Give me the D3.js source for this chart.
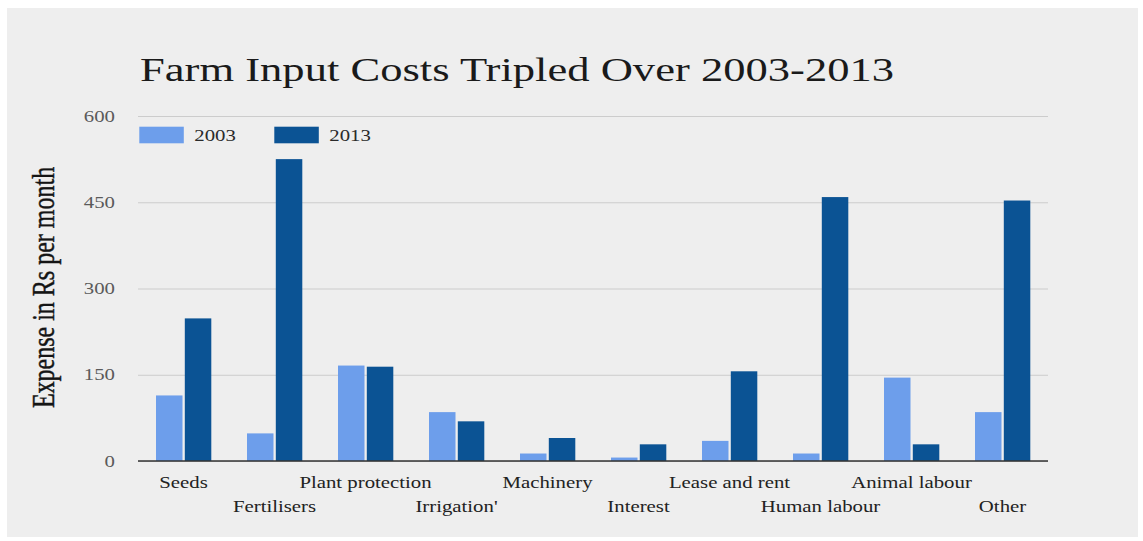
<!DOCTYPE html>
<html>
<head>
<meta charset="utf-8">
<script src="https://cdn.jsdelivr.net/npm/d3@7"></script>
<style>
  html, body { margin: 0; padding: 0; background: #ffffff; }
  svg { display: block; }
  text { font-family: "Liberation Serif", "DejaVu Serif", serif; }
</style>
</head>
<body>
<svg id="chart" width="1143" height="541"></svg>
<script>
// Monthly farm input expenses per category (Rs per month)
const categories = ["Seeds", "Fertilisers", "Plant protection", "Irrigation'", "Machinery",
                    "Interest", "Lease and rent", "Human labour", "Animal labour", "Other"];
const values2003 = [114, 48, 166, 85, 13, 6, 35, 13, 145, 85];
const values2013 = [248, 525, 164, 69, 40, 29, 156, 459, 29, 453];
const seriesNames = ["2003", "2013"];
const yTicks = [0, 150, 300, 450, 600];
const titleText = "Farm Input Costs Tripled Over 2003-2013";
const yTitleText = "Expense in Rs per month";

const colors = { "2003": "#6d9eeb", "2013": "#0b5394" };
const stretch = 1.3; // wide type face

const svg = d3.select("#chart");

// panel background
svg.append("rect")
  .attr("x", 7).attr("y", 8)
  .attr("width", 1131).attr("height", 529)
  .attr("fill", "#eeeeee");

const plot = { left: 138, right: 1048, top: 116, bottom: 461 };

const y = d3.scaleLinear().domain([0, 600]).range([plot.bottom, plot.top]);
const x0 = d3.scaleBand().domain(categories).range([plot.left, plot.right]).padding(0);
const x1 = d3.scaleBand().domain(seriesNames).range([18, 73.3]).paddingInner(0.08).paddingOuter(0);

// gridlines
const grid = svg.append("g")
  .attr("transform", `translate(${plot.left},0)`)
  .call(d3.axisLeft(y).tickValues(yTicks).tickSize(-(plot.right - plot.left)).tickFormat(""));
grid.select(".domain").remove();
grid.selectAll("line").attr("stroke", "#cccccc").attr("stroke-width", 1);

// y tick labels
const yAxis = svg.append("g")
  .attr("transform", `translate(${plot.left},0)`)
  .call(d3.axisLeft(y).tickValues(yTicks).tickSize(0).tickFormat(d3.format("d")));
yAxis.select(".domain").remove();
yAxis.selectAll("text")
  .attr("x", -23 / stretch)
  .attr("dy", "0.32em")
  .attr("transform", `scale(${stretch},1)`)
  .attr("fill", "#5a5a5a")
  .style("font-size", "16px");

// bars
const data = categories.map((c, i) => ({ category: c, values: [
  { series: "2003", value: values2003[i] },
  { series: "2013", value: values2013[i] }
]}));

const groups = svg.append("g").selectAll("g")
  .data(data).join("g")
  .attr("transform", d => `translate(${x0(d.category)},0)`);

groups.selectAll("rect")
  .data(d => d.values).join("rect")
  .attr("x", d => x1(d.series))
  .attr("width", x1.bandwidth())
  .attr("y", d => y(d.value))
  .attr("height", d => y(0) - y(d.value))
  .attr("fill", d => colors[d.series]);

// baseline
svg.append("line")
  .attr("x1", plot.left).attr("x2", plot.right)
  .attr("y1", y(0)).attr("y2", y(0))
  .attr("stroke", "#333333").attr("stroke-width", 1.5);

// category labels, alternating rows
const xAxis = svg.append("g")
  .attr("transform", `translate(0,${plot.bottom})`)
  .call(d3.axisBottom(x0).tickSize(0));
xAxis.select(".domain").remove();
xAxis.selectAll("text")
  .attr("y", (d, i) => i % 2 === 0 ? 26.7 : 50.7)
  .attr("dy", 0)
  .attr("transform", `scale(${stretch},1)`)
  .attr("x", 0)
  .attr("fill", "#222222")
  .style("font-size", "16px");
xAxis.selectAll(".tick")
  .attr("transform", d => `translate(${x0(d) + x0.bandwidth() / 2},0)`);

// legend
const legend = svg.append("g");
const legendX = [139.3, 274.3];
seriesNames.forEach((s, i) => {
  legend.append("rect")
    .attr("x", legendX[i]).attr("y", 126.7)
    .attr("width", 44.5).attr("height", 16.6)
    .attr("fill", colors[s]);
  legend.append("text")
    .attr("transform", `translate(${legendX[i] + 55},141) scale(${stretch},1)`)
    .attr("fill", "#2a2a2a")
    .style("font-size", "16px")
    .text(s);
});

// title
svg.append("text")
  .attr("transform", `translate(140,80.7) scale(${stretch},1)`)
  .attr("fill", "#1a1a1a")
  .style("font-size", "34.3px")
  .text(titleText);

// y-axis title
svg.append("text")
  .attr("transform", `translate(54,287.5) scale(${stretch},1) rotate(-90)`)
  .attr("text-anchor", "middle")
  .attr("fill", "#141414")
  .attr("stroke", "#141414")
  .attr("stroke-width", 0.35)
  .style("font-size", "24px")
  .text(yTitleText);
</script>
</body>
</html>
